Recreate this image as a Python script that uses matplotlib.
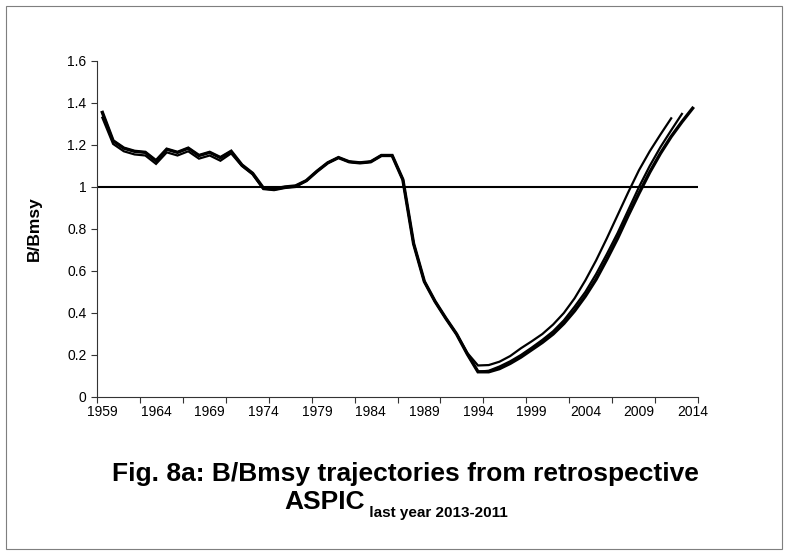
import matplotlib
matplotlib.use('Agg')
import matplotlib.pyplot as plt
from matplotlib.patches import Rectangle

plt.rcParams['font.family'] = ['Liberation Sans', 'DejaVu Sans']

# years for the common part of the three runs
years_common = list(range(1959, 1994))
bb_common = [1.355, 1.22, 1.185, 1.17, 1.165, 1.125, 1.18, 1.165, 1.185, 1.15,
             1.165, 1.14, 1.17, 1.105, 1.065, 0.995, 0.99, 1.0, 1.005, 1.03,
             1.075, 1.115, 1.14, 1.12, 1.115, 1.12, 1.15, 1.15, 1.035, 0.73,
             0.55, 0.455, 0.375, 0.30, 0.205]
# the 2011 run sits a bit lower in the early years
bb_common_2011 = [1.33, 1.205, 1.17, 1.155, 1.15, 1.11, 1.165, 1.15, 1.17, 1.135,
                  1.15, 1.125, 1.16, 1.1, 1.06, 0.99, 0.985, 0.995, 1.0, 1.03,
                  1.075, 1.115, 1.14, 1.12, 1.115, 1.12, 1.15, 1.15, 1.035, 0.73,
                  0.55, 0.455, 0.375, 0.30, 0.21]

# recovery part, last year 2013 / 2012 / 2011
years_2013 = list(range(1994, 2015))
bb_2013 = [0.12, 0.12, 0.135, 0.16, 0.19, 0.225, 0.26, 0.30, 0.35, 0.41, 0.48,
           0.56, 0.655, 0.755, 0.865, 0.97, 1.07, 1.16, 1.24, 1.31, 1.375]
years_2012 = list(range(1994, 2014))
bb_2012 = [0.12, 0.125, 0.145, 0.17, 0.20, 0.235, 0.272, 0.313, 0.365, 0.43, 0.50,
           0.585, 0.68, 0.78, 0.89, 1.0, 1.1, 1.19, 1.27, 1.348]
years_2011 = list(range(1994, 2013))
bb_2011 = [0.15, 0.152, 0.168, 0.195, 0.232, 0.265, 0.30, 0.345, 0.40, 0.47, 0.555,
           0.65, 0.755, 0.865, 0.975, 1.08, 1.17, 1.25, 1.327]

label_years = list(range(1959, 2015, 5))

fig = plt.figure(figsize=(7.88, 5.56), dpi=100)
ax = fig.add_axes([0.1231, 0.2860, 0.7627, 0.6043])

runs = [
    (years_common + years_2011, bb_common_2011 + bb_2011, 1.6),
    (years_common + years_2012, bb_common + bb_2012, 1.6),
    (years_common + years_2013, bb_common + bb_2013, 2.4),
]
for x, y, lw in runs:
    ax.plot(x, y, color='black', linewidth=lw, solid_joinstyle='miter')

ax.axhline(1.0, color='black', linewidth=1.5)

ax.set_xlim(1958.5, 2014.5)
ax.set_ylim(0, 1.6)
ax.set_yticks([0, 0.2, 0.4, 0.6, 0.8, 1.0, 1.2, 1.4, 1.6])
ax.set_yticklabels(['0', '0.2', '0.4', '0.6', '0.8', '1', '1.2', '1.4', '1.6'])

# tick marks every 4 categories, labels every 5
ax.set_xticks([1958.5 + 4 * i for i in range(15)])
ax.set_xticklabels([])
ax.set_xticks(label_years, minor=True)
ax.set_xticklabels([str(y) for y in label_years], minor=True)
ax.tick_params(axis='x', which='major', length=4, width=0.8, direction='out', color='#333333')
ax.tick_params(axis='x', which='minor', length=0, labelsize=10, pad=6)
ax.tick_params(axis='y', length=4, width=0.8, direction='out', labelsize=10, color='#333333')

for s in ['top', 'right']:
    ax.spines[s].set_visible(False)
for s in ['left', 'bottom']:
    ax.spines[s].set_color('#333333')
    ax.spines[s].set_linewidth(0.8)

ax.set_ylabel('B/Bmsy', fontsize=12.5, fontweight='bold', labelpad=18)

fig.text(0.515, 0.147, 'Fig. 8a: B/Bmsy trajectories from retrospective',
         ha='center', va='center', fontsize=19, fontweight='bold')

# second caption line: ASPIC with a subscript-like tail
fig.canvas.draw()
r = fig.canvas.get_renderer()
t1 = fig.text(0, 0.085, 'ASPIC', ha='left', va='baseline', fontsize=19, fontweight='bold')
t2 = fig.text(0, 0.071, ' last year 2013-2011', ha='left', va='baseline', fontsize=11, fontweight='bold')
w1 = t1.get_window_extent(r).width / fig.bbox.width
w2 = t2.get_window_extent(r).width / fig.bbox.width
x0 = 0.503 - (w1 + w2) / 2
t1.set_x(x0)
t2.set_x(x0 + w1)

fig.patches.append(Rectangle((0.008, 0.012), 0.984, 0.978, transform=fig.transFigure,
                             fill=False, edgecolor='#7f7f7f', linewidth=0.8))

fig.savefig('out.png', dpi=100)
